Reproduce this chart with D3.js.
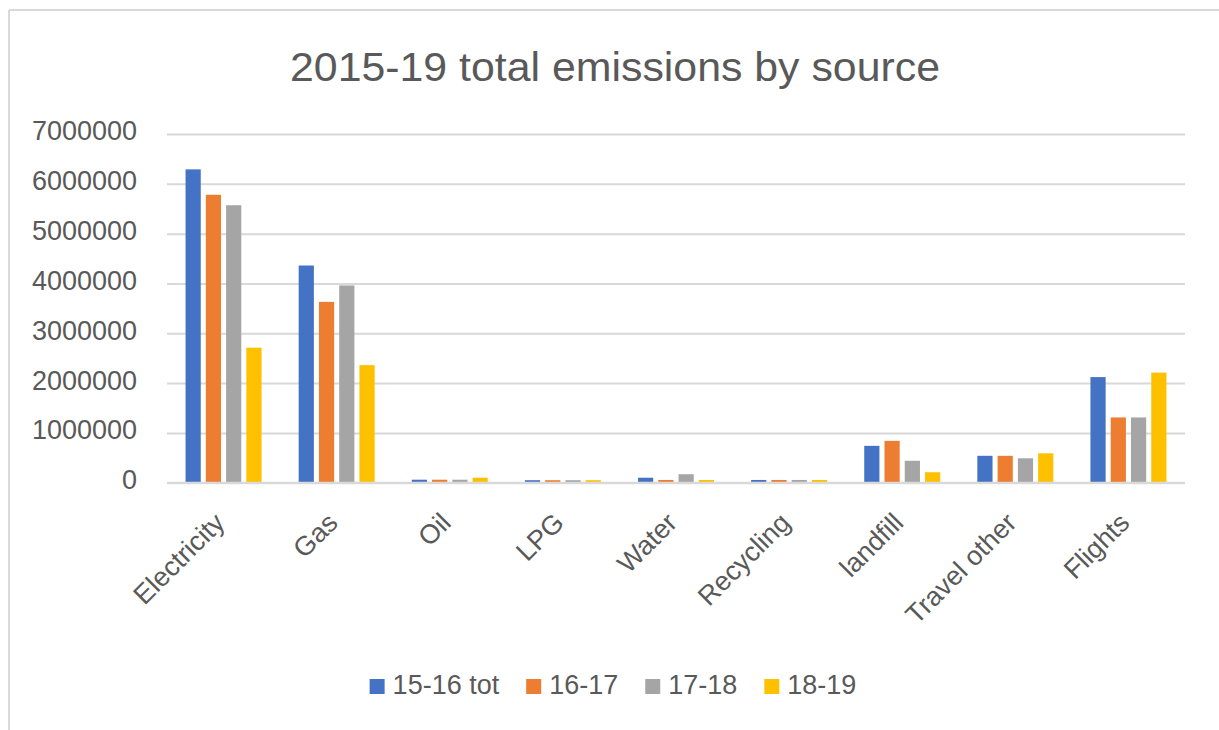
<!DOCTYPE html>
<html>
<head>
<meta charset="utf-8">
<script src="https://cdn.jsdelivr.net/npm/d3@7"></script>
<style>
  html, body { margin: 0; padding: 0; background: #fff; }
  svg { display: block; }
  text { font-family: "Liberation Sans", Arial, sans-serif; fill: #595959; }
</style>
</head>
<body>
<svg id="chart" width="1219" height="730"></svg>
<script>
const title = "2015-19 total emissions by source";
const categories = ["Electricity", "Gas", "Oil", "LPG", "Water", "Recycling", "landfill", "Travel other", "Flights"];
const seriesNames = ["15-16 tot", "16-17", "17-18", "18-19"];
const seriesColors = ["#4472C4", "#ED7D31", "#A5A5A5", "#FFC000"];
const s1516 = [6290000, 4360000, 60000, 50000, 100000, 55000, 740000, 540000, 2120000];
const s1617 = [5780000, 3630000, 60000, 50000, 55000, 55000, 840000, 540000, 1310000];
const s1718 = [5570000, 3960000, 60000, 50000, 170000, 55000, 440000, 490000, 1310000];
const s1819 = [2710000, 2360000, 100000, 50000, 55000, 55000, 210000, 590000, 2210000];
const yTicks = [0, 1000000, 2000000, 3000000, 4000000, 5000000, 6000000, 7000000];

const seriesValues = [s1516, s1617, s1718, s1819];

const svg = d3.select("#chart");

// outer chart border (top and left visible)
svg.append("line").attr("x1", 9).attr("x2", 1219).attr("y1", 10).attr("y2", 10)
  .attr("stroke", "#d9d9d9").attr("stroke-width", 2);
svg.append("line").attr("x1", 9).attr("x2", 9).attr("y1", 10).attr("y2", 730)
  .attr("stroke", "#d9d9d9").attr("stroke-width", 2);

const x0 = 167, x1 = 1185, yTop = 134, yBottom = 482.7;

const x = d3.scaleBand().domain(categories).range([x0, x1]).padding(0);
const xInner = d3.scaleBand().domain(seriesNames).range([0, 76]).paddingInner(0.25).paddingOuter(0);
const y = d3.scaleLinear().domain([0, 7000000]).range([yBottom, yTop]);

// title
svg.append("text")
  .attr("x", 615).attr("y", 81)
  .attr("text-anchor", "middle")
  .attr("font-size", 40)
  .attr("textLength", 650).attr("lengthAdjust", "spacingAndGlyphs")
  .text(title);

// gridlines
const yAxis = d3.axisLeft(y).tickValues(yTicks).tickSize(-(x1 - x0)).tickFormat(d => String(d)).tickPadding(30);
const gy = svg.append("g").attr("transform", `translate(${x0},0)`).call(yAxis);
gy.select(".domain").remove();
gy.selectAll(".tick line").attr("stroke", "#d9d9d9").attr("stroke-width", 2);
gy.selectAll(".tick text")
  .attr("font-size", 27)
  .attr("fill", "#595959")
  .attr("font-family", "Liberation Sans, Arial, sans-serif")
  .attr("dy", "0.22em");

// bars
const groups = svg.append("g").selectAll("g")
  .data(categories)
  .join("g")
  .attr("transform", d => `translate(${x(d) + x.bandwidth() / 2 - 38},0)`);

groups.selectAll("rect")
  .data((c, i) => seriesNames.map((s, j) => ({ s, j, v: seriesValues[j][i] })))
  .join("rect")
  .attr("x", d => xInner(d.s))
  .attr("width", xInner.bandwidth())
  .attr("y", d => y(d.v))
  .attr("height", d => y(0) - y(d.v))
  .attr("fill", d => seriesColors[d.j]);

// x axis line
svg.append("line").attr("x1", x0).attr("x2", x1).attr("y1", y(0)).attr("y2", y(0))
  .attr("stroke", "#d9d9d9").attr("stroke-width", 2);

// category labels
const xAxis = d3.axisBottom(x).tickSize(0).tickPadding(0);
const gx = svg.append("g").attr("transform", `translate(0,${y(0)})`).call(xAxis);
gx.select(".domain").remove();
gx.selectAll(".tick text")
  .attr("font-size", 27)
  .attr("fill", "#595959")
  .attr("font-family", "Liberation Sans, Arial, sans-serif")
  .attr("text-anchor", "end")
  .attr("transform", "translate(-4,35) rotate(-45)")
  .attr("y", 0).attr("dy", "0.35em");

// legend
const legend = svg.append("g");
let lx = 0;
seriesNames.forEach((s, j) => {
  const g = legend.append("g").attr("transform", `translate(${lx},0)`);
  g.append("rect").attr("x", 0).attr("y", -15).attr("width", 15).attr("height", 15).attr("fill", seriesColors[j]);
  const t = g.append("text").attr("x", 23).attr("y", 0).attr("font-size", 27).text(s);
  lx += 23 + t.node().getComputedTextLength() + 27;
});
const legendWidth = lx - 27;
legend.attr("transform", `translate(${613 - legendWidth / 2},694)`);
</script>
</body>
</html>
